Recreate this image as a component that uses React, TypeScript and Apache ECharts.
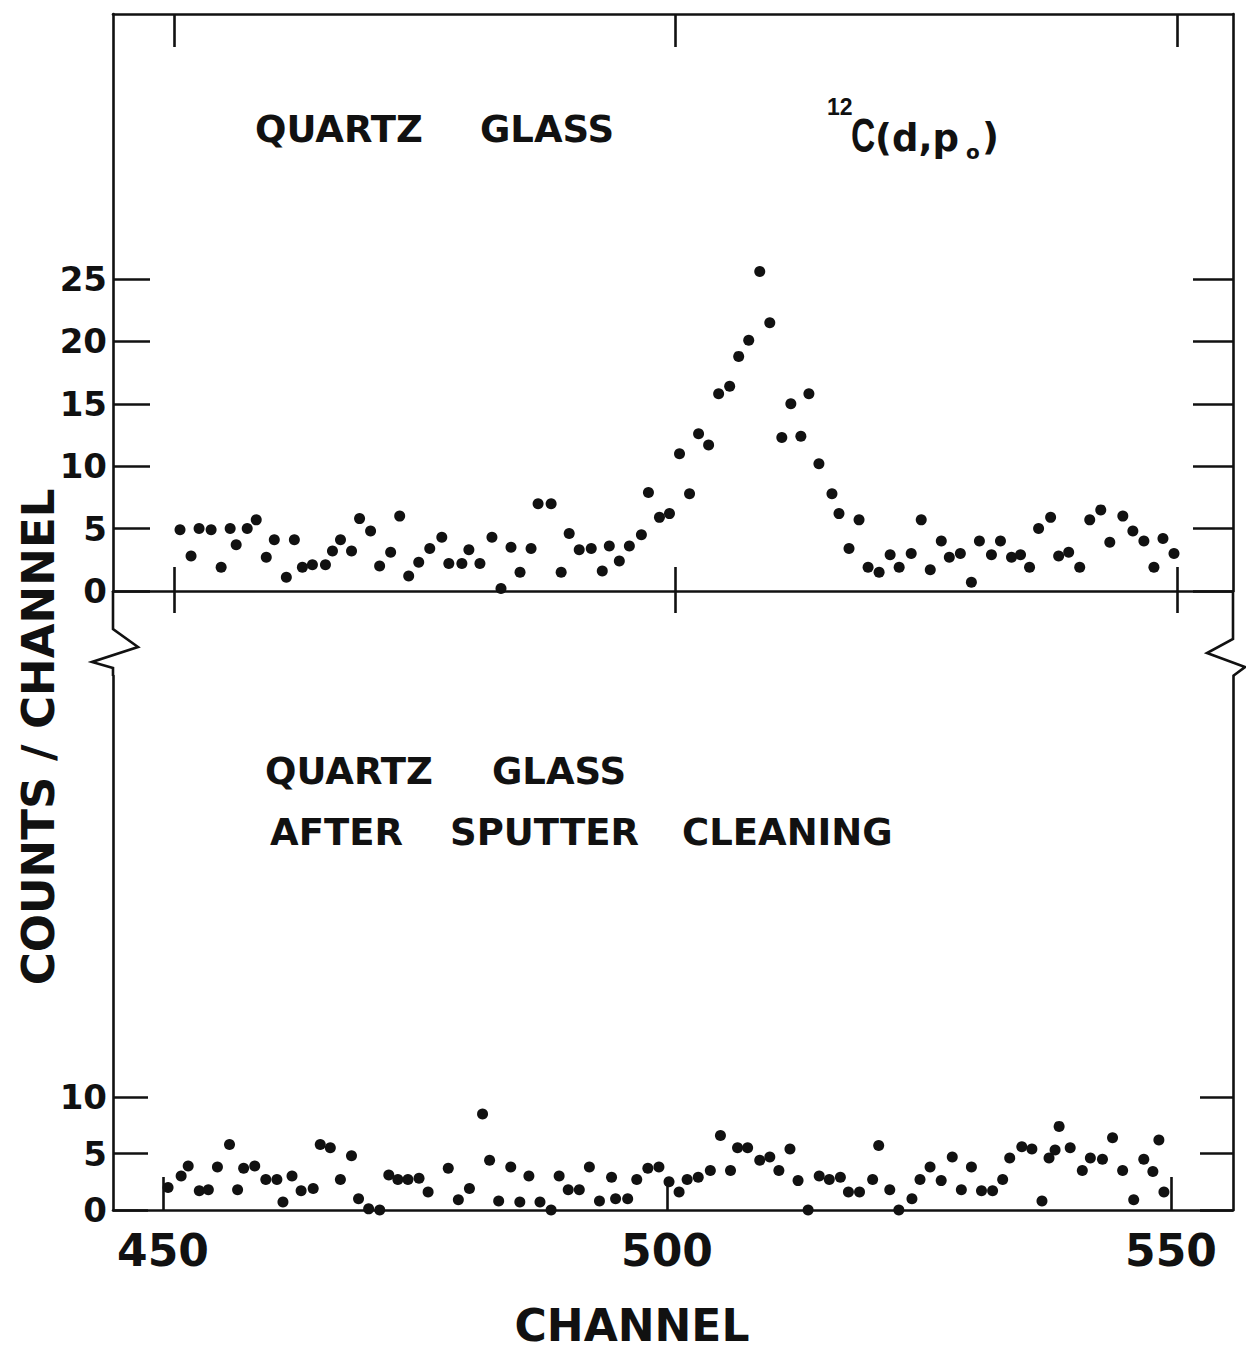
import { useEffect, useRef } from "react";
import * as echarts from "echarts";

// Channel / counts pairs for the as-received quartz glass spectrum, 12C(d,p0)
const TOP_CHANNEL = [
  450.6, 451.7, 452.5, 453.7, 454.7, 455.6, 456.2, 457.3, 458.2, 459.2,
  460.0, 461.2, 462.0, 462.8, 463.8, 465.1, 465.8, 466.6, 467.7, 468.5,
  469.6, 470.5, 471.6, 472.5, 473.4, 474.4, 475.5, 476.7, 477.4, 478.7,
  479.4, 480.5, 481.7, 482.6, 483.6, 484.5, 485.6, 486.3, 487.6, 488.6,
  489.4, 490.4, 491.6, 492.7, 493.4, 494.4, 495.4, 496.6, 497.3, 498.4,
  499.4, 500.4, 501.4, 502.3, 503.3, 504.3, 505.4, 506.3, 507.3, 508.4,
  509.4, 510.6, 511.5, 512.5, 513.3, 514.3, 515.6, 516.3, 517.3, 518.3,
  519.2, 520.3, 521.4, 522.3, 523.5, 524.5, 525.4, 526.5, 527.3, 528.4,
  529.5, 530.3, 531.5, 532.4, 533.5, 534.4, 535.3, 536.2, 537.4, 538.2,
  539.2, 540.3, 541.3, 542.4, 543.3, 544.6, 545.6, 546.7, 547.7, 548.6,
  549.7,
];
const TOP_COUNTS = [
  4.9, 2.8, 5.0, 4.9, 1.9, 5.0, 3.7, 5.0, 5.7, 2.7,
  4.1, 1.1, 4.1, 1.9, 2.1, 2.1, 3.2, 4.1, 3.2, 5.8,
  4.8, 2.0, 3.1, 6.0, 1.2, 2.3, 3.4, 4.3, 2.2, 2.2,
  3.3, 2.2, 4.3, 0.2, 3.5, 1.5, 3.4, 7.0, 7.0, 1.5,
  4.6, 3.3, 3.4, 1.6, 3.6, 2.4, 3.6, 4.5, 7.9, 5.9,
  6.2, 11.0, 7.8, 12.6, 11.7, 15.8, 16.4, 18.8, 20.1, 25.6,
  21.5, 12.3, 15.0, 12.4, 15.8, 10.2, 7.8, 6.2, 3.4, 5.7,
  1.9, 1.5, 2.9, 1.9, 3.0, 5.7, 1.7, 4.0, 2.7, 3.0,
  0.7, 4.0, 2.9, 4.0, 2.7, 2.9, 1.9, 5.0, 5.9, 2.8,
  3.1, 1.9, 5.7, 6.5, 3.9, 6.0, 4.8, 4.0, 1.9, 4.2,
  3.0,
];

// Channel / counts pairs for the same glass after sputter cleaning
const BOTTOM_CHANNEL = [
  450.5, 451.8, 452.5, 453.6, 454.5, 455.4, 456.6, 457.4, 458.0, 459.1,
  460.2, 461.3, 461.9, 462.8, 463.7, 464.9, 465.6, 466.6, 467.6, 468.7,
  469.4, 470.4, 471.5, 472.4, 473.3, 474.3, 475.4, 476.3, 478.3, 479.3,
  480.4, 481.7, 482.4, 483.3, 484.5, 485.4, 486.3, 487.4, 488.5, 489.3,
  490.2, 491.3, 492.3, 493.3, 494.5, 494.9, 496.1, 497.0, 498.1, 499.2,
  500.2, 501.2, 502.0, 503.1, 504.3, 505.3, 506.3, 507.0, 508.0, 509.2,
  510.2, 511.1, 512.2, 513.0, 514.0, 515.1, 516.1, 517.2, 518.0, 519.1,
  520.4, 521.0, 522.1, 523.0, 524.3, 525.1, 526.1, 527.2, 528.3, 529.2,
  530.2, 531.2, 532.3, 533.3, 534.0, 535.2, 536.2, 537.2, 537.9, 538.5,
  538.9, 540.0, 541.2, 542.0, 543.2, 544.2, 545.2, 546.3, 547.3, 548.2,
  548.8, 549.3,
];
const BOTTOM_COUNTS = [
  2.0, 3.0, 3.9, 1.7, 1.8, 3.8, 5.8, 1.8, 3.7, 3.9,
  2.7, 2.7, 0.7, 3.0, 1.7, 1.9, 5.8, 5.5, 2.7, 4.8,
  1.0, 0.1, 0.0, 3.1, 2.7, 2.7, 2.8, 1.6, 3.7, 0.9,
  1.9, 8.5, 4.4, 0.8, 3.8, 0.7, 3.0, 0.7, 0.0, 3.0,
  1.8, 1.8, 3.8, 0.8, 2.9, 1.0, 1.0, 2.7, 3.7, 3.8,
  2.5, 1.6, 2.7, 2.9, 3.5, 6.6, 3.5, 5.5, 5.5, 4.4,
  4.7, 3.5, 5.4, 2.6, 0.0, 3.0, 2.7, 2.9, 1.6, 1.6,
  2.7, 5.7, 1.8, 0.0, 1.0, 2.7, 3.8, 2.6, 4.7, 1.8,
  3.8, 1.7, 1.7, 2.7, 4.6, 5.6, 5.4, 0.8, 4.6, 5.3,
  7.4, 5.5, 3.5, 4.6, 4.5, 6.4, 3.5, 0.9, 4.5, 3.4,
  6.2, 1.6,
];

const X_TICKS = [450, 500, 550];
const TOP_Y_TICKS = [0, 5, 10, 15, 20, 25];
const BOTTOM_Y_TICKS = [0, 5, 10];

const INK = "#111111";
const FONT = '"DejaVu Sans", "Liberation Sans", sans-serif';
const NUM_FONT = '"Liberation Sans", "DejaVu Sans", sans-serif';

// Page layout (px)
const W = 1246;
const H = 1351;
const FRAME_L = 113;
const FRAME_R = 1233;
const FRAME_T = 14;
const TOP_ZERO = 591;
const TOP_Y25 = 279;
const TOP_X450 = 174;
const TOP_X550 = 1177;
const BOT_TOP = 676;
const BOT_ZERO = 1210;
const BOT_Y10 = 1097;
const BOT_X450 = 163;
const BOT_X550 = 1171;

// Value that sits at pixel px, given two reference pixels and their values
const valueAt = (px: number, pa: number, va: number, pb: number, vb: number) =>
  va + ((px - pa) * (vb - va)) / (pb - pa);

const TOP_XMIN = valueAt(FRAME_L, TOP_X450, 450, TOP_X550, 550);
const TOP_XMAX = valueAt(FRAME_R, TOP_X450, 450, TOP_X550, 550);
const TOP_YMAX = valueAt(FRAME_T, TOP_ZERO, 0, TOP_Y25, 25);
const BOT_XMIN = valueAt(FRAME_L, BOT_X450, 450, BOT_X550, 550);
const BOT_XMAX = valueAt(FRAME_R, BOT_X450, 450, BOT_X550, 550);
const BOT_YMAX = valueAt(BOT_TOP, BOT_ZERO, 0, BOT_Y10, 10);

const line = { color: INK, width: 2.6 };
const labelFont = (size: number) => ({
  color: INK,
  fontFamily: FONT,
  fontWeight: "bold" as const,
  fontSize: size,
});

function xAxisOf(grid: number, min: number, max: number, extra: any) {
  return {
    gridIndex: grid,
    type: "value",
    min,
    max,
    splitLine: { show: false },
    axisLabel: { show: false },
    ...extra,
  };
}

function yAxisOf(grid: number, max: number, extra: any) {
  return {
    gridIndex: grid,
    type: "value",
    min: 0,
    max,
    splitLine: { show: false },
    axisLabel: { show: false },
    ...extra,
  };
}

function word(text: string, x: number, y: number, size: number, more: any = {}) {
  return {
    type: "text",
    x,
    y,
    silent: true,
    ...more,
    style: {
      text,
      fill: INK,
      font: `bold ${size}px ${more.family || FONT}`,
      textAlign: more.align || "left",
      textVerticalAlign: "middle",
    },
  };
}

const dots = { color: INK, opacity: 1 };

export default function App() {
  const ref = useRef<HTMLDivElement>(null);

  useEffect(() => {
    document.body.style.margin = "0";
    if (!ref.current) return;
    const chart = echarts.init(ref.current, null, { renderer: "svg" });

    const topData = TOP_CHANNEL.map((c, i) => [c, TOP_COUNTS[i]]);
    const bottomData = BOTTOM_CHANNEL.map((c, i) => [c, BOTTOM_COUNTS[i]]);

    chart.setOption({
      animation: false,
      backgroundColor: "#ffffff",
      grid: [
        { left: FRAME_L, top: FRAME_T, width: FRAME_R - FRAME_L, height: TOP_ZERO - FRAME_T },
        { left: FRAME_L, top: BOT_TOP, width: FRAME_R - FRAME_L, height: BOT_ZERO - BOT_TOP },
      ],
      xAxis: [
        // zero line of the upper spectrum with ticks hanging below it
        xAxisOf(0, TOP_XMIN, TOP_XMAX, {
          position: "bottom",
          axisLine: { show: true, onZero: false, lineStyle: line },
          axisTick: { show: true, customValues: X_TICKS, inside: false, length: 22, lineStyle: line },
        }),
        // upper halves of the crossing ticks on the zero line
        xAxisOf(0, TOP_XMIN, TOP_XMAX, {
          position: "bottom",
          axisLine: { show: false, onZero: false },
          axisTick: { show: true, customValues: X_TICKS, inside: true, length: 24, lineStyle: line },
        }),
        // top frame edge
        xAxisOf(0, TOP_XMIN, TOP_XMAX, {
          position: "top",
          axisLine: { show: true, onZero: false, lineStyle: line },
          axisTick: { show: true, customValues: X_TICKS, inside: true, length: 33, lineStyle: line },
        }),
        // channel axis of the lower spectrum
        xAxisOf(1, BOT_XMIN, BOT_XMAX, {
          position: "bottom",
          axisLine: { show: true, onZero: false, lineStyle: line },
          axisTick: { show: true, customValues: X_TICKS, inside: true, length: 33, lineStyle: line },
          axisLabel: { show: true, customValues: X_TICKS, margin: 18, ...labelFont(44) },
        }),
      ],
      yAxis: [
        yAxisOf(0, TOP_YMAX, {
          position: "left",
          axisLine: { show: true, onZero: false, lineStyle: line },
          axisTick: { show: true, customValues: TOP_Y_TICKS, inside: true, length: 37, lineStyle: line },
          axisLabel: { show: true, customValues: TOP_Y_TICKS, margin: 6, ...labelFont(34) },
        }),
        yAxisOf(0, TOP_YMAX, {
          position: "right",
          axisLine: { show: true, onZero: false, lineStyle: line },
          axisTick: { show: true, customValues: TOP_Y_TICKS, inside: true, length: 40, lineStyle: line },
        }),
        yAxisOf(1, BOT_YMAX, {
          position: "left",
          axisLine: { show: true, onZero: false, lineStyle: line },
          axisTick: { show: true, customValues: BOTTOM_Y_TICKS, inside: true, length: 35, lineStyle: line },
          axisLabel: { show: true, customValues: BOTTOM_Y_TICKS, margin: 6, ...labelFont(34) },
        }),
        yAxisOf(1, BOT_YMAX, {
          position: "right",
          axisLine: { show: true, onZero: false, lineStyle: line },
          axisTick: { show: true, customValues: BOTTOM_Y_TICKS, inside: true, length: 33, lineStyle: line },
        }),
      ],
      series: [
        {
          type: "scatter",
          xAxisIndex: 0,
          yAxisIndex: 0,
          data: topData,
          symbol: "circle",
          symbolSize: 11,
          itemStyle: dots,
          clip: false,
          silent: true,
        },
        {
          type: "scatter",
          xAxisIndex: 3,
          yAxisIndex: 2,
          data: bottomData,
          symbol: "circle",
          symbolSize: 11,
          itemStyle: dots,
          clip: false,
          silent: true,
        },
      ],
      graphic: [
        // axis break marks joining the two panels
        {
          type: "polyline",
          silent: true,
          shape: { points: [[FRAME_L, TOP_ZERO], [FRAME_L, 629], [138, 647], [92, 662], [FRAME_L, 668], [FRAME_L, BOT_TOP]] },
          style: { stroke: INK, lineWidth: 2.6, fill: "none" },
        },
        {
          type: "polyline",
          silent: true,
          shape: { points: [[FRAME_R, TOP_ZERO], [FRAME_R, 639], [1207, 653], [1245, 667], [FRAME_R, BOT_TOP]] },
          style: { stroke: INK, lineWidth: 2.6, fill: "none" },
        },
        // panel captions
        word("QUARTZ", 255, 129, 37),
        word("GLASS", 480, 129, 37),
        word("12", 827, 107, 23, { family: NUM_FONT }),
        word("C", 851, 135, 48, { family: NUM_FONT, scaleX: 0.7 }),
        word("(d,p", 875, 138, 37),
        word("o", 966, 152, 20),
        word(")", 982, 137, 37),
        word("QUARTZ", 265, 771, 37),
        word("GLASS", 492, 771, 37),
        word("AFTER", 270, 832, 37),
        word("SPUTTER", 450, 832, 37),
        word("CLEANING", 682, 832, 37),
        // axis titles
        word("CHANNEL", 632, 1325, 44, { align: "center" }),
        word("COUNTS / CHANNEL", 38, 737, 45, { align: "center", rotation: Math.PI / 2 }),
      ],
    });

    return () => chart.dispose();
  }, []);

  return (
    <div
      ref={ref}
      style={{ position: "fixed", left: 0, top: 0, width: W, height: H, background: "#fff" }}
    />
  );
}
